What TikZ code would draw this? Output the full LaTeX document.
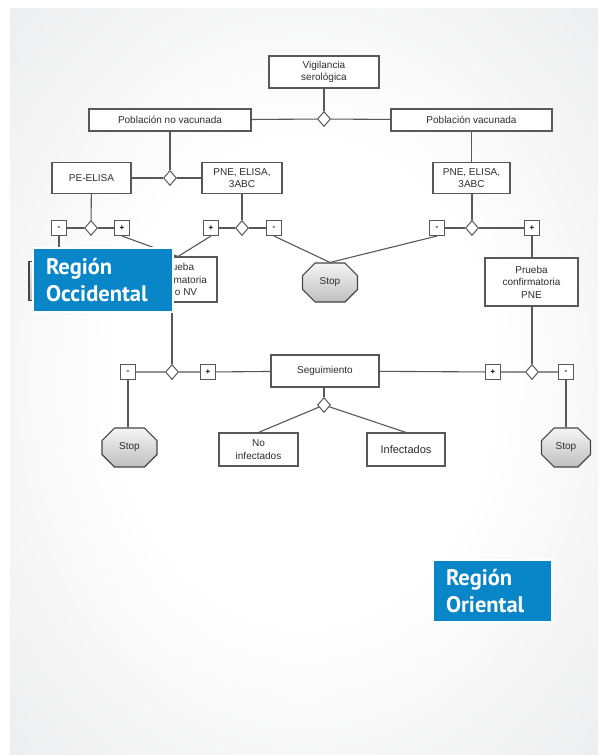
\documentclass[tikz,border=0pt]{standalone}
\usepackage{fontspec}
\setmainfont{Liberation Sans}
\newfontfamily\regionfont{PT Sans Bold}
\usetikzlibrary{shapes.geometric,shapes.misc}

\definecolor{panelgray}{RGB}{224,225,227}
\definecolor{linegray}{RGB}{88,88,88}
\definecolor{inkgray}{RGB}{45,45,45}
\definecolor{regionblue}{RGB}{8,134,200}

\pgfdeclareradialshading{panelglow}{\pgfpoint{0bp}{0bp}}{%
  color(0bp)=(white); color(16bp)=(white); color(50bp)=(panelgray); color(72bp)=(panelgray)}

\tikzset{
  flowbox/.style={draw=linegray, line width=1.1pt, fill=white, text=inkgray,
    font=\fontsize{10}{12.5}\selectfont, align=center, inner sep=1pt},
  sign/.style={draw=linegray, line width=1pt, fill=white, minimum size=15pt,
    inner sep=0pt, text=black, font=\fontsize{8}{8}\selectfont\bfseries},
  junction/.style={diamond, draw=linegray, line width=1pt, fill=white,
    minimum width=13pt, minimum height=15pt, inner sep=0pt},
  stopnode/.style={chamfered rectangle, chamfered rectangle xsep=8pt,
    chamfered rectangle ysep=8pt, draw=linegray!80!black, line width=1.1pt,
    top color=gray!8, bottom color=gray!50, text=inkgray, inner sep=0pt,
    minimum width=55pt, minimum height=39pt, font=\fontsize{10}{12}\selectfont},
  link/.style={draw=linegray, line width=1.1pt},
  region/.style={fill=regionblue, draw=white, line width=2.5pt, text=white,
    font=\regionfont\fontsize{22.5}{27}\selectfont, align=left, inner xsep=13pt}
}

\begin{document}
\begin{tikzpicture}[x=1pt,y=-1pt]

  \useasboundingbox (0,0) rectangle (598,755);
  \shade[shading=panelglow] (10,8) rectangle (598,755);

  % top level
  \node[flowbox, minimum width=110pt, minimum height=32pt] (vig) at (324,72) {Vigilancia\\serológica};
  \node[junction] (dtop) at (324,119) {};
  \node[flowbox, minimum width=162pt, minimum height=22pt] (novac) at (170,120) {Población no vacunada};
  \node[flowbox, minimum width=161pt, minimum height=22pt] (vac) at (471.5,120) {Población vacunada};

  % tests, non vaccinated
  \node[junction] (dnovac) at (170,178) {};
  \node[flowbox, minimum width=79pt, minimum height=31pt] (peelisa) at (91.5,178) {PE-ELISA};
  \node[flowbox, minimum width=80pt, minimum height=31pt] (pnel) at (242,178) {PNE, ELISA,\\3ABC};

  \node[junction] (dpe) at (91,228) {};
  \node[sign] (peneg) at (59,228) {-};
  \node[sign] (pepos) at (122,228) {+};
  \node[junction] (dpnel) at (242,228) {};
  \node[sign] (pnelpos) at (211,228) {+};
  \node[sign] (pnelneg) at (274,228) {-};

  % tests, vaccinated
  \node[flowbox, minimum width=77pt, minimum height=31pt] (pner) at (471.5,178) {PNE, ELISA,\\3ABC};
  \node[junction] (dpner) at (472,228) {};
  \node[sign] (pnerneg) at (437,228) {-};
  \node[sign] (pnerpos) at (532,228) {+};

  % confirmation
  \node[stopnode] (stopa) at (56.5,281) {};
  \node[flowbox, minimum width=78pt, minimum height=45pt] (confnv) at (178,279.5) {Prueba\\confirmatoria\\PE o NV};
  \node[stopnode] (stopb) at (330,282.5) {Stop};
  \node[flowbox, minimum width=93pt, minimum height=48pt] (confpne) at (531.5,282) {Prueba\\confirmatoria\\PNE};

  % follow-up row
  \node[junction] (dconfnv) at (172,372) {};
  \node[sign] (nvneg) at (128,372) {-};
  \node[sign] (nvpos) at (208,372) {+};
  \node[flowbox, minimum width=108pt, minimum height=32pt] (seg) at (325,371) {Seguimiento};
  \node[sign] (pnepos) at (493,372) {+};
  \node[junction] (dconfpne) at (532,372) {};
  \node[sign] (pneneg) at (566,372) {-};

  \node[stopnode] (stopc) at (129.5,447.5) {Stop};
  \node[stopnode, minimum width=49pt] (stopd) at (566,447.5) {Stop};
  \node[junction] (dseg) at (324,405) {};
  \node[flowbox, minimum width=79pt, minimum height=33pt] (noinf) at (258.5,449.5) {No\\infectados};
  \node[flowbox, minimum width=78pt, minimum height=33pt, font=\fontsize{11}{12}\selectfont] (inf) at (406,449.5) {Infectados};

  \draw[link] (vig) -- (dtop);
  \draw[link] (novac) -- (dtop) -- (vac);
  \draw[link] (novac.south -| dnovac) -- (dnovac);
  \draw[link] (peelisa) -- (dnovac) -- (pnel);
  \draw[link] (peelisa) -- (dpe);
  \draw[link] (peneg) -- (dpe) -- (pepos);
  \draw[link] (pnel) -- (dpnel);
  \draw[link] (pnelpos) -- (dpnel) -- (pnelneg);
  \draw[link] (vac.south -| pner) -- (pner);
  \draw[link] (pner.south -| dpner) -- (dpner);
  \draw[link] (pnerneg) -- (dpner) -- (pnerpos);

  \draw[link] (peneg) -- (peneg |- stopa.north);
  \draw[link] (pepos.south) -- (confnv.north);
  \draw[link] (pnelpos.south) -- (confnv.north);
  \draw[link] (pnelneg.south) -- (stopb.north);
  \draw[link] (pnerneg.south) -- (stopb.north);
  \draw[link] (pnerpos) -- (pnerpos |- confpne.north);

  \draw[link] (confnv.south -| dconfnv) -- (dconfnv);
  \draw[link] (nvneg) -- (dconfnv) -- (nvpos) -- (seg) -- (pnepos) -- (dconfpne) -- (pneneg);
  \draw[link] (confpne.south -| dconfpne) -- (dconfpne);
  \draw[link] (nvneg) -- (nvneg |- stopc.north);
  \draw[link] (pneneg) -- (pneneg |- stopd.north);
  \draw[link] (seg.south -| dseg) -- (dseg);
  \draw[link] (dseg) -- (noinf.north);
  \draw[link] (dseg) -- (inf.north);

  % region labels
  \node[region, minimum width=140pt, minimum height=64pt, text width=114pt] (occ) at (103,280) {Región\\Occidental};
  \node[region, minimum width=119pt, minimum height=62pt, text width=93pt] (ori) at (492.5,591) {Región\\Oriental};

\end{tikzpicture}
\end{document}
